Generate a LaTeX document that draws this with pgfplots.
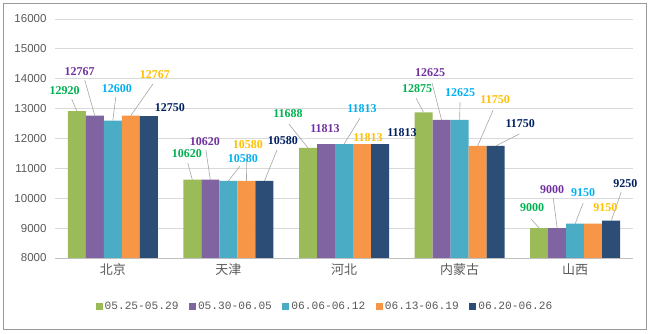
\documentclass[border=0pt]{standalone}
\usepackage{pgfplots}
\pgfplotsset{compat=1.18}
\usepackage{fontspec}
\setmainfont{Liberation Sans}
\newfontfamily\cjk{Noto Sans CJK SC}
\newfontfamily\labfont{Liberation Serif}
\newfontfamily\legfont{Liberation Mono}
\definecolor{s1}{HTML}{9BBB59}
\definecolor{s2}{HTML}{8064A2}
\definecolor{s3}{HTML}{4BACC6}
\definecolor{s4}{HTML}{F79646}
\definecolor{s5}{HTML}{2C4D75}
\definecolor{l1}{HTML}{00B050}
\definecolor{l2}{HTML}{7030A0}
\definecolor{l3}{HTML}{00B0F0}
\definecolor{l4}{HTML}{FFC000}
\definecolor{l5}{HTML}{002060}
\definecolor{txt}{HTML}{595959}
\definecolor{grd}{HTML}{D9D9D9}
\newcommand{\dl}[4]{\node[font=\labfont\bfseries\fontsize{12}{12}\selectfont, text=#3, inner sep=0pt] at (axis cs:#1,#2) {#4};}
\newcommand{\ld}[4]{\draw[color=black!35, line width=0.6pt] (axis cs:#1,#2) -- (axis cs:#3,#4);}
\begin{document}
\begin{tikzpicture}
\useasboundingbox (0,0) rectangle (653pt,334pt);
\draw[color=black!40, line width=0.8pt] (3pt,5pt) rectangle (646pt,331pt);
\begin{axis}[
  at={(55pt,76pt)}, anchor=south west,
  scale only axis, width=578pt, height=239pt,
  clip=false,
  xmin=-0.5, xmax=4.5, ymin=8000, ymax=16000,
  ytick={8000,9000,...,16000},
  xtick={0,1,2,3,4},
  xticklabels={北京,天津,河北,内蒙古,山西},
  xticklabel style={font=\cjk\fontsize{13}{13}\selectfont, text=txt, yshift=-2pt},
  yticklabel style={font=\fontsize{11.5}{12}\selectfont, text=txt, xshift=-5pt},
  /pgf/number format/assume math mode=true,
  /pgf/number format/1000 sep={},
  scaled y ticks=false,
  ymajorgrids, grid style={grd, line width=0.8pt},
  axis x line=bottom, axis y line=left,
  x axis line style={color=black!25, line width=0.8pt, -},
  y axis line style={draw=none},
  major tick length=0pt,
  legend columns=5,
  legend style={at={(rel axis cs:0.467,-0.205)}, anchor=center, draw=none, fill=none,
    font=\legfont\fontsize{11.2}{12}\selectfont, text=txt,
    /tikz/every even column/.append style={column sep=8.5pt},
    nodes={inner xsep=2pt}},
  legend image code/.code={\fill[#1] (0pt,-3.5pt) rectangle (7pt,3.5pt);},
]
\addplot[ybar, fill=s1, draw=none, bar width=18pt, bar shift=-36pt] coordinates {(0,12920) (1,10620) (2,11688) (3,12875) (4,9000)};
\addplot[ybar, fill=s2, draw=none, bar width=18pt, bar shift=-18pt] coordinates {(0,12767) (1,10620) (2,11813) (3,12625) (4,9000)};
\addplot[ybar, fill=s3, draw=none, bar width=18pt, bar shift=0pt] coordinates {(0,12600) (1,10580) (2,11813) (3,12625) (4,9150)};
\addplot[ybar, fill=s4, draw=none, bar width=18pt, bar shift=18pt] coordinates {(0,12767) (1,10580) (2,11813) (3,11750) (4,9150)};
\addplot[ybar, fill=s5, draw=none, bar width=18pt, bar shift=36pt] coordinates {(0,12750) (1,10580) (2,11813) (3,11750) (4,9250)};
\legend{05.25-05.29,05.30-06.05,06.06-06.12,06.13-06.19,06.20-06.26}
% leader lines
\ld{-0.355}{13317}{-0.312}{12920}
\ld{-0.242}{13952}{-0.156}{12767}
\ld{0.026}{13384}{0}{12600}
\ld{0.346}{13819}{0.156}{12767}
\ld{0.649}{11177}{0.688}{10620}
\ld{0.805}{11612}{0.844}{10620}
\ld{1.100}{11076}{1.0}{10580}
\ld{1.160}{11511}{1.156}{10580}
\ld{1.420}{11612}{1.312}{10580}
\ld{1.524}{12481}{1.688}{11688}
\ld{2.139}{12682}{2.0}{11813}
\ld{2.623}{13350}{2.688}{12875}
\ld{2.762}{13852}{2.844}{12625}
\ld{3.004}{13217}{3.0}{12625}
\ld{3.290}{12949}{3.156}{11750}
\ld{3.515}{12147}{3.312}{11750}
\ld{3.619}{9304}{3.688}{9000}
\ld{3.810}{10006}{3.844}{9000}
\ld{4.069}{9839}{4.0}{9150}
\ld{4.398}{10207}{4.312}{9250}
% labels
\dl{-0.416}{13618}{l1}{12920}
\dl{-0.286}{14253}{l2}{12767}
\dl{0.035}{13685}{l3}{12600}
\dl{0.364}{14153}{l4}{12767}
\dl{0.494}{13049}{l5}{12750}
\dl{0.641}{11511}{l1}{10620}
\dl{0.797}{11912}{l2}{10620}
\dl{1.126}{11344}{l3}{10580}
\dl{1.169}{11812}{l4}{10580}
\dl{1.472}{11946}{l5}{10580}
\dl{1.515}{12849}{l1}{11688}
\dl{1.835}{12347}{l2}{11813}
\dl{2.156}{13016}{l3}{11813}
\dl{2.208}{12046}{l4}{11813}
\dl{2.502}{12213}{l5}{11813}
\dl{2.632}{13685}{l1}{12875}
\dl{2.745}{14220}{l2}{12625}
\dl{3.004}{13551}{l3}{12625}
\dl{3.307}{13317}{l4}{11750}
\dl{3.524}{12514}{l5}{11750}
\dl{3.628}{9672}{l1}{9000}
\dl{3.801}{10307}{l2}{9000}
\dl{4.069}{10174}{l3}{9150}
\dl{4.260}{9672}{l4}{9150}
\dl{4.433}{10508}{l5}{9250}
\end{axis}
\end{tikzpicture}
\end{document}
